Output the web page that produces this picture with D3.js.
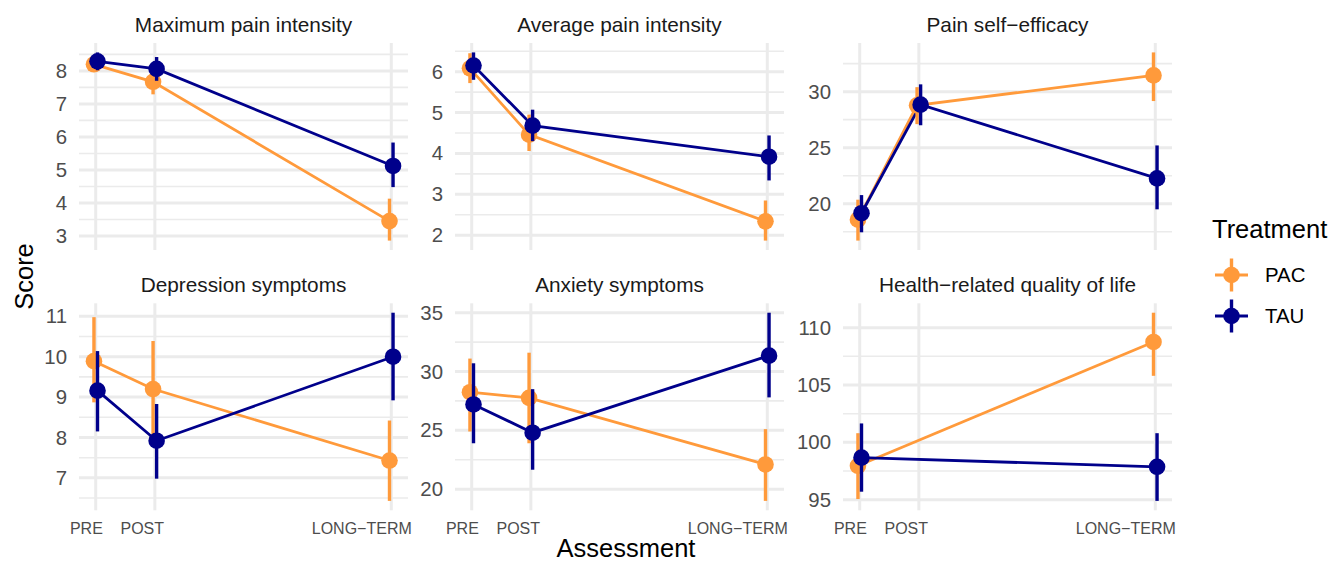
<!DOCTYPE html>
<html><head><meta charset="utf-8">
<script src="https://cdn.jsdelivr.net/npm/d3@7"></script>
<style>body{margin:0;background:#fff}text{font-family:"Liberation Sans",Arial,Helvetica,sans-serif}</style>
</head><body><svg id="chart" width="1328" height="564"></svg>
<script>
// ---- data ----
const timeLabels = ["PRE", "POST", "LONG\u2212TERM"];
const timeValues = [0, 1, 5];
const treatments = ["PAC", "TAU"];
const panelTitles = ["Maximum pain intensity", "Average pain intensity", "Pain self\u2212efficacy",
  "Depression symptoms", "Anxiety symptoms", "Health\u2212related quality of life"];

const pacMean = [[8.20, 7.67, 3.45], [6.08, 4.46, 2.34], [18.58, 28.78, 31.45],
  [9.89, 9.20, 7.43], [28.24, 27.76, 22.10], [97.96, null, 108.75]];
const pacLow = [[7.98, 7.29, 2.86], [5.72, 4.06, 1.87], [16.71, 27.10, 29.16],
  [8.87, 8.00, 6.43], [24.90, 23.90, 19.00], [95.06, null, 105.80]];
const pacHigh = [[8.42, 8.05, 4.13], [6.45, 4.95, 2.85], [20.36, 30.40, 33.50],
  [10.98, 10.39, 8.42], [31.10, 31.60, 25.10], [100.80, null, 111.30]];

const tauMean = [[8.29, 8.06, 5.12], [6.15, 4.68, 3.92], [19.15, 28.84, 22.26],
  [9.16, 7.92, 10.00], [27.20, 24.80, 31.35], [98.67, null, 97.87]];
const tauLow = [[8.02, 7.70, 4.48], [5.80, 4.30, 3.34], [17.45, 27.00, 19.50],
  [8.15, 6.98, 8.92], [23.90, 21.65, 27.80], [95.70, null, 94.90]];
const tauHigh = [[8.56, 8.42, 5.83], [6.47, 5.07, 4.44], [20.77, 30.65, 25.20],
  [10.14, 8.83, 11.09], [30.70, 28.50, 35.00], [101.65, null, 100.80]];

// ---- layout / style ----
const colors = {PAC: "#FF9A3B", TAU: "#00008B"};
const dodge = {PAC: -0.03, TAU: 0.03};
const colLeft = [79, 455, 843];
const rowTop = [43, 303.3];
const panelW = 329, panelH = 207;
const grid = "#EBEBEB";

const svg = d3.select("#chart");
svg.append("rect").attr("width", 1328).attr("height", 564).attr("fill", "#fff");

const series = {
  PAC: {mean: pacMean, low: pacLow, high: pacHigh},
  TAU: {mean: tauMean, low: tauLow, high: tauHigh}
};

// x scale shared
const xs = timeValues.flatMap(t => [t + dodge.PAC, t + dodge.TAU]);
const xmin = d3.min(xs), xmax = d3.max(xs), xr = xmax - xmin;
const xDomain = [xmin - 0.05 * xr, xmax + 0.05 * xr];

panelTitles.forEach((title, i) => {
  const col = i % 3, row = Math.floor(i / 3);
  const left = colLeft[col], top = rowTop[row];
  const x = d3.scaleLinear().domain(xDomain).range([left, left + panelW]);
  const vals = [];
  treatments.forEach(tr => {
    ["mean", "low", "high"].forEach(k => series[tr][k][i].forEach(v => { if (v != null) vals.push(v); }));
  });
  const lo = d3.min(vals), hi = d3.max(vals), r = hi - lo;
  const y = d3.scaleLinear().domain([lo - 0.05 * r, hi + 0.05 * r]).range([top + panelH, top]);
  const ticks = y.ticks(5);
  const step = ticks[1] - ticks[0];
  const minor = ticks.map(t => t - step / 2).concat([ticks[ticks.length - 1] + step / 2])
    .filter(t => t >= y.domain()[0] && t <= y.domain()[1]);

  const g = svg.append("g");
  // minor grid
  g.selectAll(".mn").data(minor).enter().append("line")
    .attr("x1", left).attr("x2", left + panelW)
    .attr("y1", d => y(d)).attr("y2", d => y(d))
    .attr("stroke", grid).attr("stroke-width", 1.6);
  // major grid
  g.selectAll(".mj").data(ticks).enter().append("line")
    .attr("x1", left).attr("x2", left + panelW)
    .attr("y1", d => y(d)).attr("y2", d => y(d))
    .attr("stroke", grid).attr("stroke-width", 3);
  g.selectAll(".vx").data(timeValues).enter().append("line")
    .attr("x1", d => x(d)).attr("x2", d => x(d))
    .attr("y1", top).attr("y2", top + panelH)
    .attr("stroke", grid).attr("stroke-width", 3);

  // y axis labels
  const yAxis = d3.axisLeft(y).tickValues(ticks).tickSize(0).tickPadding(12).tickFormat(d3.format("d"));
  const ya = g.append("g").attr("transform", `translate(${left},0)`).call(yAxis);
  ya.select(".domain").remove();
  ya.selectAll("text").attr("font-size", 20.4).attr("fill", "#4D4D4D")
    .attr("font-family", '"Liberation Sans",Arial,sans-serif');

  // x axis labels on bottom row (hjust ~0.8)
  if (row === 1) {
    const xAxis = d3.axisBottom(x).tickValues(timeValues).tickSize(0).tickPadding(12)
      .tickFormat((d, j) => timeLabels[j]);
    const xa = g.append("g").attr("transform", `translate(0,${top + panelH})`).call(xAxis);
    xa.select(".domain").remove();
    xa.selectAll("text").attr("font-size", 16).attr("fill", "#4D4D4D")
      .attr("font-family", '"Liberation Sans",Arial,sans-serif')
      .attr("text-anchor", "start")
      .attr("x", function () { return -0.8 * this.getComputedTextLength(); });
  }

  // strip title
  g.append("text").attr("x", left + panelW / 2).attr("y", top - 11.4)
    .attr("text-anchor", "middle").attr("font-size", 20.8).attr("fill", "#1A1A1A").text(title);

  // lines
  treatments.forEach(tr => {
    const pts = timeValues.map((t, j) => ({t, m: series[tr].mean[i][j]})).filter(p => p.m != null);
    g.append("path").datum(pts)
      .attr("d", d3.line().x(p => x(p.t + dodge[tr])).y(p => y(p.m)))
      .attr("fill", "none").attr("stroke", colors[tr]).attr("stroke-width", 2.8);
  });
  // pointranges
  treatments.forEach(tr => {
    const pts = timeValues.map((t, j) => ({t, m: series[tr].mean[i][j], l: series[tr].low[i][j], h: series[tr].high[i][j]}))
      .filter(p => p.m != null);
    g.selectAll(".er" + tr).data(pts).enter().append("line")
      .attr("x1", p => x(p.t + dodge[tr])).attr("x2", p => x(p.t + dodge[tr]))
      .attr("y1", p => y(p.l)).attr("y2", p => y(p.h))
      .attr("stroke", colors[tr]).attr("stroke-width", 3.4);
    g.selectAll(".pt" + tr).data(pts).enter().append("circle")
      .attr("cx", p => x(p.t + dodge[tr])).attr("cy", p => y(p.m)).attr("r", 8.3)
      .attr("fill", colors[tr]);
  });
});

// axis titles
svg.append("text").attr("transform", "translate(33,276.5) rotate(-90)")
  .attr("text-anchor", "middle").attr("font-size", 25.5).attr("fill", "#000").text("Score");
svg.append("text").attr("x", 626).attr("y", 557)
  .attr("text-anchor", "middle").attr("font-size", 25.5).attr("fill", "#000").text("Assessment");

// legend
const lg = svg.append("g");
lg.append("text").attr("x", 1212).attr("y", 238).attr("font-size", 25.5).attr("fill", "#000").text("Treatment");
treatments.forEach((tr, k) => {
  const cy = 275 + k * 41, cx = 1231.5;
  lg.append("line").attr("x1", cx - 16.5).attr("x2", cx + 16.5).attr("y1", cy).attr("y2", cy)
    .attr("stroke", colors[tr]).attr("stroke-width", 3);
  lg.append("line").attr("x1", cx).attr("x2", cx).attr("y1", cy - 16.5).attr("y2", cy + 16.5)
    .attr("stroke", colors[tr]).attr("stroke-width", 3.4);
  lg.append("circle").attr("cx", cx).attr("cy", cy).attr("r", 8.3).attr("fill", colors[tr]);
  lg.append("text").attr("x", 1265).attr("y", cy + 7.3).attr("font-size", 20.4).attr("fill", "#000").text(tr);
});
</script></body></html>
